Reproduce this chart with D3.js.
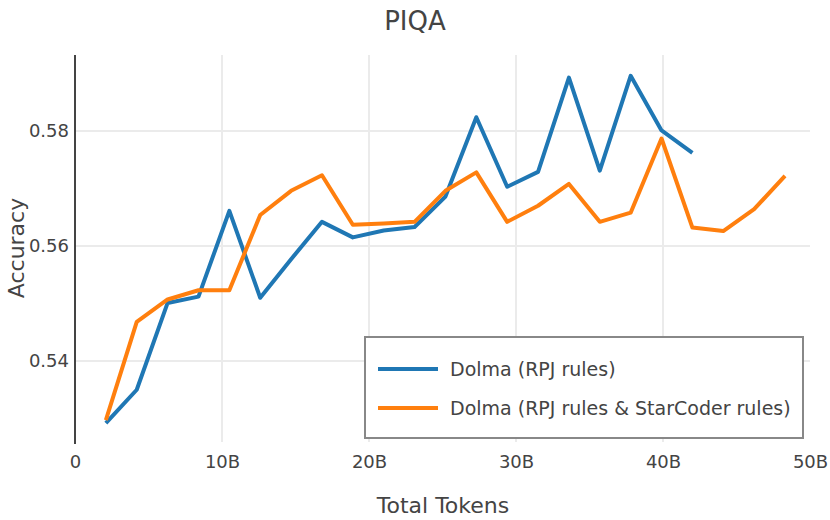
<!DOCTYPE html>
<html>
<head>
<meta charset="utf-8">
<script src="https://cdn.jsdelivr.net/npm/d3@7"></script>
<style>
  body { margin: 0; background: #fff; }
  svg text { font-family: "DejaVu Sans", Verdana, sans-serif; fill: #444; }
</style>
</head>
<body>
<div id="chart"></div>
<script>
// total tokens (billions) for each checkpoint
const tokens = [2.1, 4.2, 6.3, 8.4, 10.5, 12.6, 14.7, 16.8, 18.9, 21.0, 23.1, 25.2,
  27.3, 29.4, 31.5, 33.6, 35.7, 37.8, 39.9, 42.0, 44.1, 46.2, 48.3];

const seriesNames = ['Dolma (RPJ rules)', 'Dolma (RPJ rules & StarCoder rules)'];

const rpjAcc = [0.5292, 0.5350, 0.5501, 0.5512, 0.5661, 0.5510, 0.5577, 0.5642, 0.5615, 0.5627,
  0.5633, 0.5686, 0.5824, 0.5703, 0.5729, 0.5893, 0.5731, 0.5896, 0.5801, 0.5762];

const rpjStarAcc = [0.5297, 0.5468, 0.5507, 0.5523, 0.5523, 0.5654, 0.5696, 0.5723, 0.5637, 0.5639,
  0.5642, 0.5696, 0.5728, 0.5642, 0.5670, 0.5708, 0.5642, 0.5658, 0.5787, 0.5632,
  0.5626, 0.5664, 0.5722];

const xTicks = [0, 10, 20, 30, 40, 50];
const yTicks = [0.54, 0.56, 0.58];
const colors = ['#1f77b4', '#ff7f0e'];

const width = 830;
const height = 520;
const margin = { top: 55, right: 20, bottom: 78, left: 75 };

const svg = d3.select('#chart').append('svg')
  .attr('width', width)
  .attr('height', height);

const x = d3.scaleLinear().domain([0, 50]).range([margin.left, width - margin.right]);
const y = d3.scaleLinear().domain([0.52591, 0.59322]).range([height - margin.bottom, margin.top]);

// grid
svg.append('g')
  .selectAll('line')
  .data(yTicks)
  .enter().append('line')
  .attr('x1', margin.left).attr('x2', width - margin.right)
  .attr('y1', d => y(d)).attr('y2', d => y(d))
  .attr('stroke', '#ebebeb').attr('stroke-width', 2);

svg.append('g')
  .selectAll('line')
  .data(xTicks.filter(d => d > 0 && d < 50))
  .enter().append('line')
  .attr('x1', d => x(d)).attr('x2', d => x(d))
  .attr('y1', margin.top).attr('y2', height - margin.bottom)
  .attr('stroke', '#ebebeb').attr('stroke-width', 2);

// axes
const xAxis = d3.axisBottom(x).tickValues(xTicks).tickSize(0)
  .tickFormat(d => d === 0 ? '0' : d + 'B');
svg.append('g')
  .attr('transform', 'translate(0,' + (height - margin.bottom + 6) + ')')
  .call(xAxis)
  .call(g => g.select('.domain').remove())
  .selectAll('text').attr('font-size', 18).attr('dy', '0.95em')
  .style('font-family', '"DejaVu Sans", Verdana, sans-serif').attr('fill', '#444');

const yAxis = d3.axisLeft(y).tickValues(yTicks).tickSize(0).tickFormat(d3.format('.2f'));
svg.append('g')
  .attr('transform', 'translate(' + (margin.left - 3) + ',0)')
  .call(yAxis)
  .call(g => g.select('.domain').remove())
  .selectAll('text').attr('font-size', 18)
  .style('font-family', '"DejaVu Sans", Verdana, sans-serif').attr('fill', '#444');

svg.append('line')
  .attr('x1', margin.left).attr('x2', margin.left)
  .attr('y1', margin.top).attr('y2', height - margin.bottom + 2)
  .attr('stroke', '#444').attr('stroke-width', 2);

// lines
const line = d3.line()
  .x((d, i) => x(tokens[i]))
  .y(d => y(d));

[rpjAcc, rpjStarAcc].forEach(function (vals, i) {
  svg.append('path')
    .datum(vals)
    .attr('d', line)
    .attr('fill', 'none')
    .attr('stroke', colors[i])
    .attr('stroke-width', 4)
    .attr('stroke-linejoin', 'round');
});

// titles
svg.append('text')
  .attr('x', 415).attr('y', 30)
  .attr('text-anchor', 'middle')
  .attr('font-size', 26)
  .text('PIQA');

svg.append('text')
  .attr('x', 443).attr('y', 513)
  .attr('text-anchor', 'middle')
  .attr('font-size', 22)
  .text('Total Tokens');

svg.append('text')
  .attr('transform', 'translate(24,' + 248 + ') rotate(-90)')
  .attr('text-anchor', 'middle')
  .attr('font-size', 22)
  .text('Accuracy');

// legend
const legend = svg.append('g').attr('transform', 'translate(365,337)');
legend.append('rect')
  .attr('width', 438).attr('height', 101)
  .attr('fill', '#fff')
  .attr('stroke', '#888')
  .attr('stroke-width', 2);

const item = legend.selectAll('g.item')
  .data(seriesNames)
  .enter().append('g')
  .attr('class', 'item')
  .attr('transform', (d, i) => 'translate(0,' + (32 + i * 39) + ')');

item.append('line')
  .attr('x1', 13).attr('x2', 73)
  .attr('stroke', (d, i) => colors[i])
  .attr('stroke-width', 4);

item.append('text')
  .attr('x', 85)
  .attr('dy', '0.35em')
  .attr('font-size', 19)
  .text(d => d);
</script>
</body>
</html>
